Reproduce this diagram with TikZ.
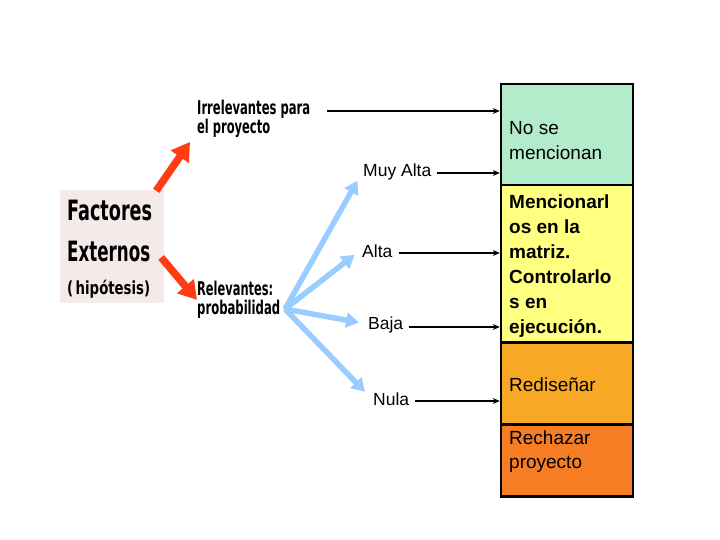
\documentclass[tikz,border=0pt]{standalone}
\usepackage{fontspec}
\setmainfont{Liberation Sans}
\newfontfamily\impact{DejaVu Sans Condensed}
\usetikzlibrary{arrows.meta}
\definecolor{mint}{HTML}{B2ECCA}
\definecolor{ylw}{HTML}{FFFF80}
\definecolor{org}{HTML}{F7A926}
\definecolor{dorg}{HTML}{F77D24}
\definecolor{pinkbg}{HTML}{F5EAEA}
\definecolor{redarr}{HTML}{FF3C14}
\definecolor{bluearr}{HTML}{99CCFF}
\newcommand\fitw[2]{\resizebox{#1}{\height}{#2}}
\tikzset{
  colbox/.style={draw=black, line width=2.5pt, minimum width=132pt, inner sep=0pt, anchor=north},
  boxtxt/.style={anchor=west, align=left, inner sep=0pt, font=\fontsize{19}{24.5}\selectfont},
  lvl/.style={inner sep=2pt, font=\fontsize{17.5}{20}\selectfont},
  imp/.style={inner sep=0pt, anchor=west, align=left, font=\impact\bfseries},
  blk/.style={line width=1.5pt, -{Stealth[length=7pt,width=6pt]}},
  rarrow/.style={draw=redarr, line width=7.5pt, -{Triangle[length=18pt,width=21pt]}},
  barrow/.style={draw=bluearr, line width=5.5pt, -{Triangle[length=13pt,width=15pt]}, shorten >=3pt}
}
\begin{document}
\begin{tikzpicture}[x=1pt,y=-1pt]
\useasboundingbox (0,0) rectangle (720,540);
% right column
\node[colbox, fill=mint, minimum height=101pt] (b1) at (567,83) {};
\node[colbox, fill=ylw, minimum height=157pt] (b2) at (567,184) {};
\node[colbox, fill=org, minimum height=82pt] (b3) at (567,341) {};
\node[colbox, fill=dorg, minimum height=72pt] (b4) at (567,423) {};
\node[boxtxt] (t1) at (509,140.5) {No se\\mencionan};
\node[boxtxt, font=\fontsize{19}{25}\selectfont\bfseries] (t2) at (509,266) {Mencionarl\\os en la\\matriz.\\Controlarlo\\s en\\ejecución.};
\node[boxtxt] (t3) at (509,385) {Rediseñar};
\node[boxtxt] (t4) at (509,451.5) {Rechazar\\proyecto};
% left box
\node[fill=pinkbg, minimum width=104pt, minimum height=113pt, inner sep=0pt] (fe) at (112,246.5) {};
\node[imp, font=\impact\bfseries\fontsize{28}{30}\selectfont] (f1) at (67,210) {\fitw{85pt}{Factores}};
\node[imp, font=\impact\bfseries\fontsize{28}{30}\selectfont] (f2) at (67,251) {\fitw{83pt}{Externos}};
\node[imp, font=\impact\bfseries\fontsize{18}{20}\selectfont] (f3) at (67,289) {\fitw{83pt}{(\,hipótesis)}};
% middle labels
\node[imp, font=\impact\bfseries\fontsize{19}{19}\selectfont, anchor=north west] (irr) at (197,100) {\fitw{113pt}{Irrelevantes para}\\\fitw{73pt}{el proyecto}};
\node[imp, font=\impact\bfseries\fontsize{19}{19}\selectfont, anchor=north west] (rel) at (197,281) {\fitw{76pt}{Relevantes:}\\\fitw{83pt}{probabilidad}};
\coordinate (irrline) at (327,111);
\coordinate (hub) at (285,309);
\node[lvl, anchor=west] (ma) at (361,172) {Muy Alta};
\node[lvl, anchor=west] (al) at (360,251) {Alta};
\node[lvl, anchor=west] (ba) at (366,325) {Baja};
\node[lvl, anchor=west] (nu) at (371,399) {Nula};
% black arrows
\draw[blk] (irrline) -- (irrline -| b1.west);
\draw[blk, shorten <=4pt] ([yshift=-1pt]ma.east) -- ([yshift=-1pt]ma.east -| b1.west);
\draw[blk, shorten <=4pt] ([yshift=-2pt]al.east) -- ([yshift=-2pt]al.east -| b2.west);
\draw[blk, shorten <=4pt] ([yshift=-2pt]ba.east) -- ([yshift=-2pt]ba.east -| b2.west);
\draw[blk, shorten <=4pt] ([yshift=-2pt]nu.east) -- ([yshift=-2pt]nu.east -| b3.west);
% red arrows
\draw[rarrow] ([shift={(-8,1)}]fe.north east) -- ([shift={(-7,4)}]irr.south west);
\draw[rarrow] ([shift={(-3,11)}]fe.east) -- ([shift={(0,0)}]rel.west);
% blue arrows
\draw[barrow] (hub) -- ([shift={(-2,6)}]ma.west);
\draw[barrow] (hub) -- ([shift={(-3,2)}]al.west);
\draw[barrow] (hub) -- ([shift={(-4,-2)}]ba.west);
\draw[barrow] (hub) -- ([shift={(-4,-5)}]nu.west);
\end{tikzpicture}
\end{document}
